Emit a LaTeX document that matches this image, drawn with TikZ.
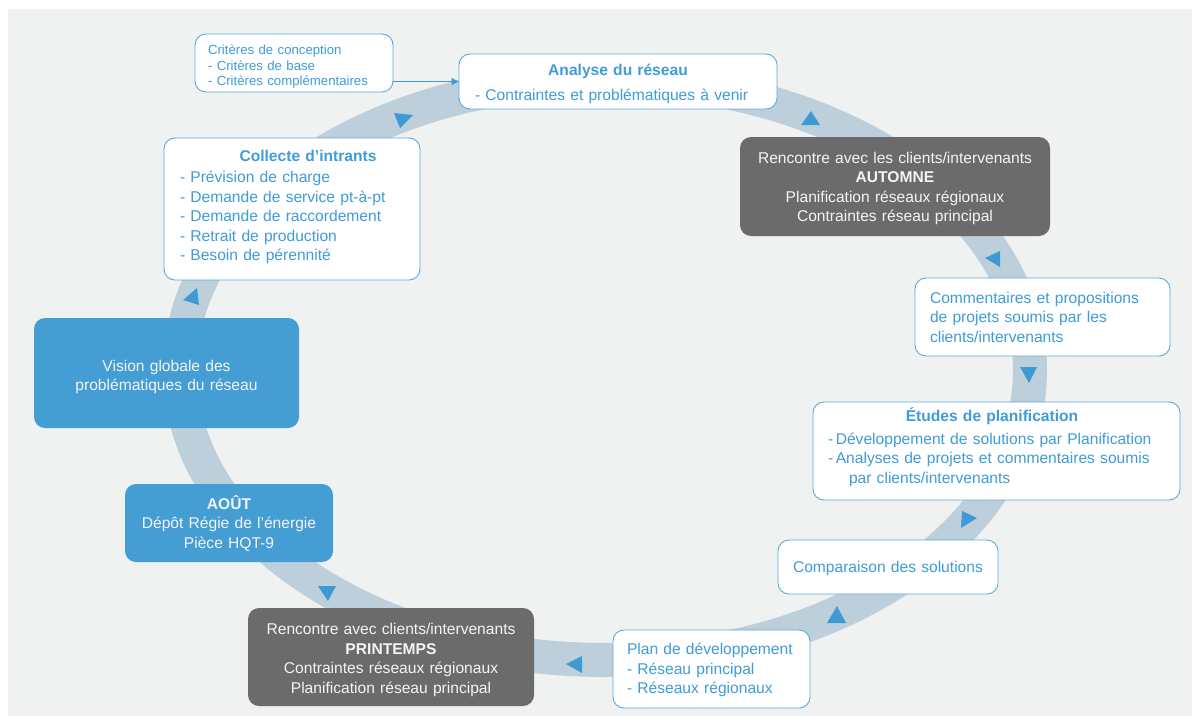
\documentclass[tikz,border=0pt]{standalone}
\usepackage{fontspec}
\setmainfont{Liberation Sans}
\usetikzlibrary{arrows.meta}
\definecolor{bgc}{HTML}{F0F1F1}
\definecolor{ringc}{HTML}{BCCFDB}
\definecolor{arrc}{HTML}{3F9AD4}
\definecolor{txtb}{HTML}{3F9CD8}
\definecolor{bordb}{HTML}{5AAAE0}
\definecolor{grayb}{HTML}{6B6B6B}
\definecolor{blueb}{HTML}{449ED4}
\definecolor{lighttxt}{HTML}{F4F4F4}
\begin{document}
\begin{tikzpicture}[x=1pt,y=-1pt,
  basefont/.style={font=\fontsize{15.6}{19.5}\selectfont},
  wbox/.style={basefont, draw=bordb, fill=white, line width=0.9pt, rounded corners=11pt,
    text=txtb, align=left, inner ysep=0pt},
  gbox/.style={basefont, fill=grayb, rounded corners=11pt, text=lighttxt, align=center,
    inner sep=0pt},
  bbox/.style={basefont, fill=blueb, rounded corners=11pt, text=lighttxt, align=center,
    inner sep=0pt},
  tdown/.style={execute at begin node={\rule{0pt}{#1}}},
  tri/.style={fill=arrc},
  link/.style={draw=arrc, line width=0.9pt, -{Triangle[length=7pt,width=7pt]}}
]
% background
\fill[white] (0,0) rectangle (1193,717);
\fill[bgc] (8,9) rectangle (1192,716);
% ring
\draw[ringc, line width=34pt] (605,370) ellipse [x radius=425pt, y radius=290pt];
% triangles on the ring
\fill[tri] (394,113) -- (413,115) -- (400,128) -- cycle;
\fill[tri] (801,125) -- (811,111) -- (820,125) -- cycle;
\fill[tri] (985,258) -- (1000,251) -- (1000,267) -- cycle;
\fill[tri] (1020,367) -- (1037,367) -- (1029,383) -- cycle;
\fill[tri] (962,511) -- (977,518) -- (961,528) -- cycle;
\fill[tri] (827,623) -- (837,606) -- (846,623) -- cycle;
\fill[tri] (566,664) -- (582,656) -- (582,673) -- cycle;
\fill[tri] (318,586) -- (336,586) -- (328,601) -- cycle;
\fill[tri] (183,300) -- (197,288) -- (199,305) -- cycle;

% boxes
\node[wbox, font=\fontsize{13.2}{15.5}\selectfont, inner xsep=13pt, text width=172pt, minimum height=58pt, tdown=17.6pt]
  (crit) at (294,63) {Critères de conception\\- Critères de base\\- Critères complémentaires};

\node[wbox, inner xsep=16pt, text width=286pt, minimum height=55pt, tdown=15.3pt]
  (analyse) at (618,81.5) {\makebox[286pt]{\textbf{Analyse du réseau}}\\[5.5pt]- Contraintes et problématiques à venir};

\node[gbox, text width=310pt, minimum height=99pt, tdown=15.3pt]
  (automne) at (895,186.5) {Rencontre avec les clients/intervenants\\\textbf{AUTOMNE}\\Planification réseaux régionaux\\Contraintes réseau principal};

\node[wbox, inner xsep=15pt, text width=225pt, minimum height=78pt]
  (comm) at (1042.5,317) {Commentaires et propositions\\de projets soumis par les\\clients/intervenants};

\node[wbox, inner xsep=15pt, text width=337pt, minimum height=98pt]
  (etudes) at (996.5,451) {\makebox[337pt]{\textbf{Études de planification}\hspace{9pt}}\\[3.5pt]-\,Développement de solutions par Planification\\-\,Analyses de projets et commentaires soumis\\\hspace*{21pt}par clients/intervenants\\[-8.2pt]\mbox{}};

\node[wbox, inner xsep=15pt, text width=190pt, minimum height=54pt, tdown=13.3pt]
  (comp) at (888,567) {Comparaison des solutions};

\node[wbox, inner xsep=14pt, text width=169pt, minimum height=78pt, tdown=13.3pt]
  (plan) at (711.5,669) {Plan de développement\\- Réseau principal\\- Réseaux régionaux};

\node[gbox, text width=286pt, minimum height=98pt, tdown=17.3pt]
  (printemps) at (391,657) {Rencontre avec clients/intervenants\\\textbf{PRINTEMPS}\\Contraintes réseaux régionaux\\Planification réseau principal};

\node[bbox, text width=208pt, minimum height=78pt]
  (aout) at (229,523) {\textbf{AOÛT}\\Dépôt Régie de l'énergie\\Pièce HQT-9};

\node[bbox, text width=265pt, minimum height=110pt, tdown=19.3pt]
  (vision) at (166.5,373) {Vision globale des\\problématiques du réseau};

\node[wbox, inner xsep=16pt, text width=224pt, minimum height=142pt]
  (collecte) at (292,209) {\makebox[224pt]{\hspace{32pt}\textbf{Collecte d’intrants}}\\[2pt]- Prévision de charge\\- Demande de service pt-à-pt\\- Demande de raccordement\\- Retrait de production\\- Besoin de pérennité\\[-12.2pt]\mbox{}};

% connector
\draw[link] (crit.east |- analyse.west) -- (analyse.west);
\end{tikzpicture}
\end{document}
